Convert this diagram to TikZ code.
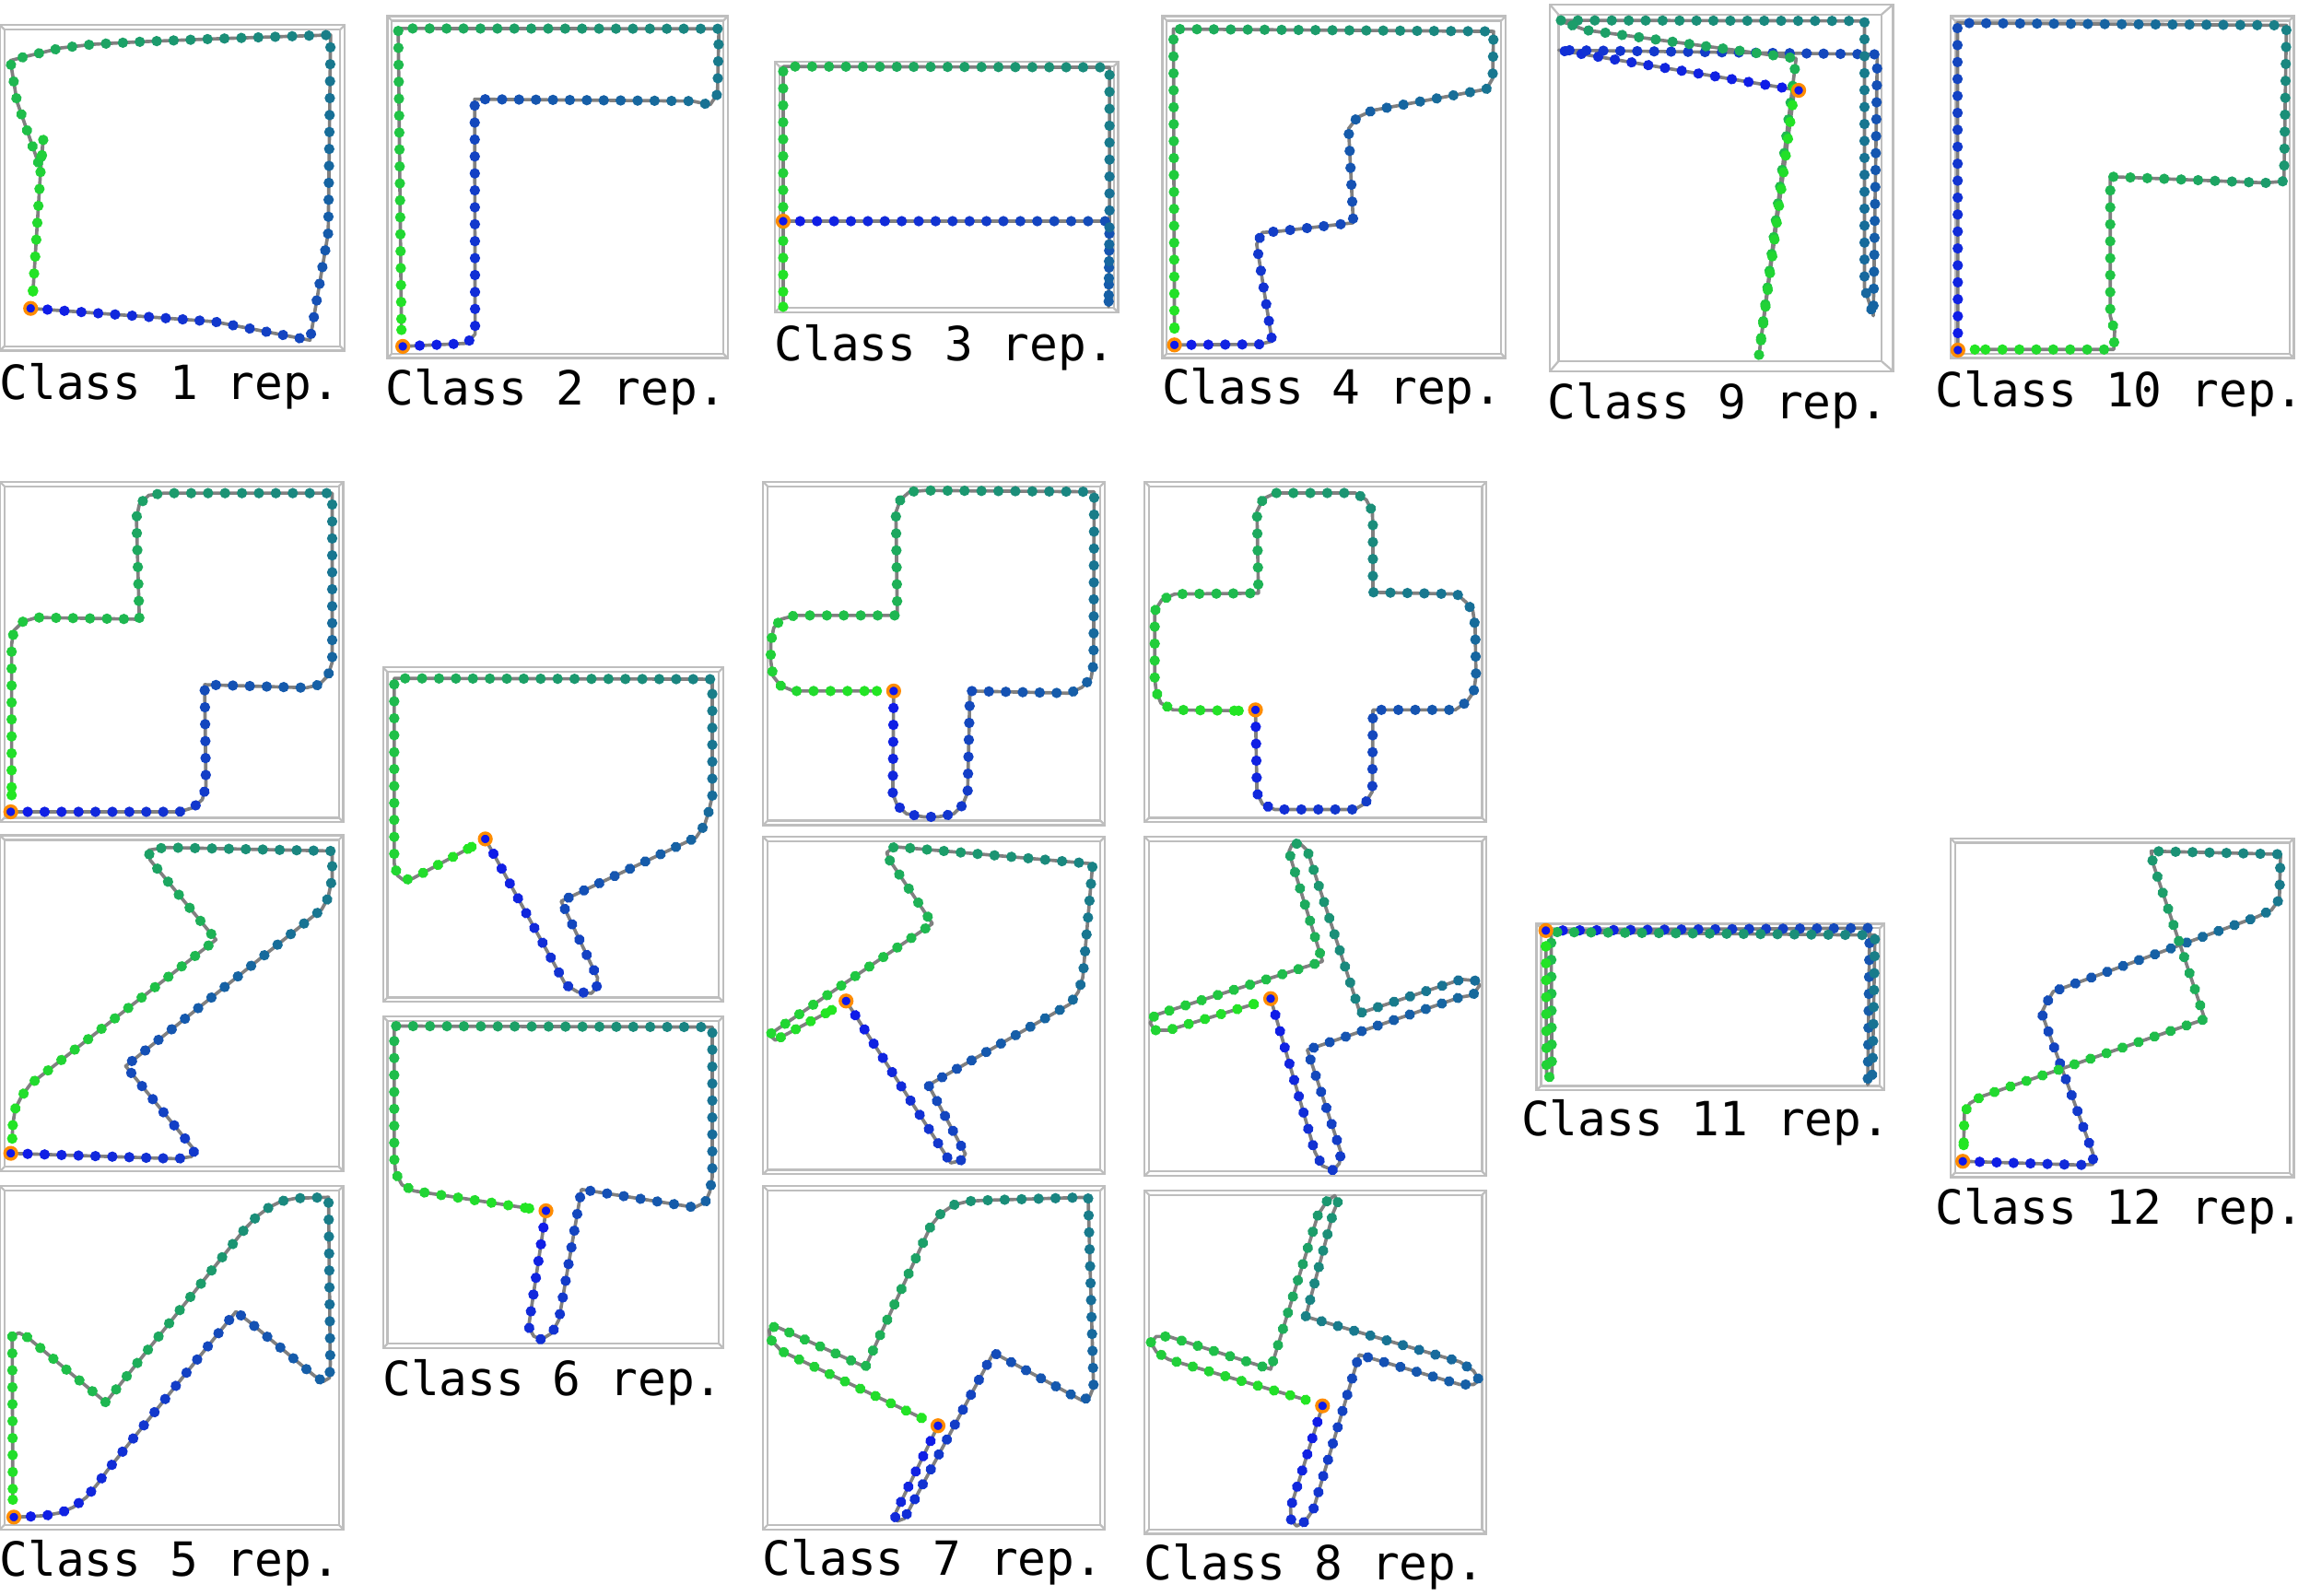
\documentclass[tikz,border=0pt]{standalone}
\usepackage{fontspec}
\setmonofont{DejaVu Sans Mono}
\usetikzlibrary{decorations.markings}
\definecolor{startc}{RGB}{15,25,235}
\definecolor{endc}{RGB}{35,230,35}
\definecolor{boxc}{RGB}{190,190,190}
\definecolor{ringc}{RGB}{255,140,0}
\newcommand\dotmark{%
  \pgfmathsetmacro\dotfr{(\pgfkeysvalueof{/pgf/decoration/mark info/distance from start}/\pgfdecoratedpathlength)*100}%
  \fill[endc!\dotfr!startc] (0,0) circle[radius=0.355mm];}
\newcommand\panelbox[4]{%
  \draw[boxline] (#1,#2) rectangle (#3,#4);
  \draw[boxline] (#1+3,#2+3) rectangle (#3-3,#4-3);
  \draw[boxline] (#1,#2) -- (#1+3,#2+3) (#3,#2) -- (#3-3,#2+3)
                 (#1,#4) -- (#1+3,#4-3) (#3,#4) -- (#3-3,#4-3);}
\tikzset{
  traj/.style={draw=gray, line width=0.65pt, line join=round, postaction={decorate},
    decoration={markings,
      mark=between positions 0 and 1 step 1.15mm with {\dotmark},
      mark=at position 1 with {\dotmark}}},
  startmk/.style={fill=startc, draw=ringc, line width=0.6pt},
  boxline/.style={draw=boxc, line width=0.4pt},
  lbl/.style={font=\ttfamily\fontsize{9.1}{11}\selectfont, inner sep=0pt, anchor=base west},
}
\begin{document}
\begin{tikzpicture}[x=0.1mm,y=-0.1mm]
\useasboundingbox (0,0) rectangle (1568,1083);
% ---------- boxes ----------
\panelbox{0}{17}{234}{238}
\panelbox{263}{11}{494}{243}
\panelbox{526}{42}{759}{212}
\panelbox{789}{11}{1022}{243}
\draw[boxline] (1052,3) rectangle (1285,252);
\draw[boxline] (1058,10) rectangle (1277,245);
\draw[boxline] (1052,3) -- (1058,10) (1285,3) -- (1277,10) (1052,252) -- (1058,245) (1285,252) -- (1277,245);
\panelbox{1324}{11}{1557}{243}
\panelbox{0}{327}{233}{558}
\panelbox{0}{567}{233}{795}
\panelbox{0}{805}{233}{1038}
\panelbox{260}{453}{491}{680}
\panelbox{260}{690}{491}{915}
\panelbox{518}{327}{750}{560}
\panelbox{518}{568}{750}{797}
\panelbox{518}{805}{750}{1038}
\panelbox{777}{327}{1009}{558}
\panelbox{777}{568}{1009}{798}
\panelbox{777}{808}{1009}{1041}
\panelbox{1043}{627}{1279}{740}
\panelbox{1324}{569}{1557}{799}
% ---------- Class 1 ----------
\draw[traj] (20.8,209.3) -- (145.5,218.3) -- (210.4,230.9) -- (222.8,158) -- (224.4,23.7) -- (143.9,26.4) -- (95.9,28.3) -- (63.9,30.0) -- (41.6,32.5) -- (19.2,37.9) -- (7.0,41.1) -- (11.5,68.8) -- (27.2,113.9) -- (29.4,94.4) -- (27.5,117.0) -- (22.4,197.8);
\path[startmk] (20.8,209.3) circle[radius=0.4mm];
% ---------- Class 2 ----------
\draw[traj] (273.4,235.1) -- (316.8,233.0) -- (322.5,226.8) -- (322.2,67.3) -- (470,68.6) -- (482,71.1) -- (487,63.8) -- (488,19.5) -- (270.3,19.3) -- (272.5,223.9);
\path[startmk] (273.4,235.1) circle[radius=0.4mm];
% ---------- Class 3 ----------
\draw[traj] (531.6,150.1) -- (753.1,150.1) -- (752.5,208.2) -- (753.1,150.1) -- (753.1,45.7) -- (531.6,45.1) -- (531.6,150.1) -- (531.6,208.2);
\path[startmk] (531.6,150.1) circle[radius=0.4mm];
% ---------- Class 4 ----------
\draw[traj] (797.2,234.1) -- (854.6,233.7) -- (863.5,231.6) -- (853.0,165.7) -- (856.9,157.8) -- (867.8,157.0) -- (918.6,151.2) -- (915.4,87.3) -- (921.3,79.7) -- (931.8,74.9) -- (1008.9,60.5) -- (1013.2,53.3) -- (1013.8,21.3) -- (796.5,19.7) -- (797.2,223.0);
\path[startmk] (797.2,234.1) circle[radius=0.4mm];
% ---------- Class 9 ----------
\draw[traj] (1220.9,61.3) -- (1058.0,34.0) -- (1274.3,36.9) -- (1271.6,214.3) -- (1265.6,195.3) -- (1265.6,14.2) -- (1058.0,13.8) -- (1076.4,20.4) -- (1219.2,39.6) -- (1193.9,241.6) -- (1218.2,60.3);
\path[startmk] (1220.9,61.3) circle[radius=0.4mm];
% ---------- Class 10 ----------
\draw[traj] (1329.0,237.6) -- (1328.7,15.6) -- (1552.0,17.2) -- (1550.3,123.0) -- (1537.9,124.1) -- (1432.4,119.9) -- (1432.4,214.4) -- (1435.4,224.7) -- (1434.8,237.2) -- (1340.5,237.2);
\path[startmk] (1329.0,237.6) circle[radius=0.4mm];
% ---------- Class 5 ----------
\draw[traj] (7.3,551.0) -- (121.7,551.0) -- (131.0,548.2) -- (137.3,542.7) -- (139.8,533.6) -- (138.9,464.7) -- (208.0,466.8) -- (216.7,464.7) -- (222.6,458.6) -- (225.5,449.4) -- (225.5,334.7) -- (111.3,334.7) -- (100.9,336.2) -- (94.6,342.3) -- (92.6,351.5) -- (94.6,420.3) -- (25.0,419.1) -- (15.6,421.9) -- (9.4,428.0) -- (7.9,437.2) -- (7.9,539.7);
\path[startmk] (7.3,551.0) circle[radius=0.4mm];
\draw[traj] (7.3,782.8) -- (120.6,786.5) -- (130.0,785.0) -- (132.1,780.7) -- (85.3,723.6) -- (218.4,617.2) -- (222.6,609.6) -- (225.5,595.9) -- (225.5,577.6) -- (112.3,575.2) -- (100.9,577.0) -- (101.9,583.7) -- (146.6,637.8) -- (20.8,735.7) -- (14.6,744.2) -- (10.4,752.4) -- (8.7,763.1) -- (8.3,772.8);
\path[startmk] (7.3,782.8) circle[radius=0.4mm];
\draw[traj] (9.4,1029.7) -- (20.8,1029.3) -- (31.2,1028.6) -- (41.6,1026.6) -- (49.9,1022.9) -- (58.7,1016.2) -- (66.1,1007.3) -- (72.8,998.1) -- (160.2,890.2) -- (169.5,897.4) -- (213.2,933.6) -- (219.4,937.7) -- (223.6,935.2) -- (224.2,926.3) -- (223.0,812.6) -- (200.7,813.3) -- (190.9,815.3) -- (182.6,819.5) -- (174.3,825.7) -- (166.4,833.9) -- (71.8,951.8) -- (18.7,907.7) -- (12.9,904.6) -- (8.3,907.1) -- (8.7,1017.9);
\path[startmk] (9.4,1029.7) circle[radius=0.4mm];
% ---------- Class 6 ----------
\draw[traj] (329.4,569.4) -- (384.0,668.4) -- (392.2,673.3) -- (401.5,674.2) -- (405.0,670.0) -- (405.6,663.6) -- (380.9,611.7) -- (472.5,568.4) -- (478.3,559.8) -- (481.1,550.8) -- (483.5,540.2) -- (483.5,461.0) -- (267.6,460.4) -- (267.6,586.0) -- (269.7,594.1) -- (273.8,597.3) -- (280.0,596.3) -- (320.1,574.8);
\path[startmk] (329.4,569.4) circle[radius=0.4mm];
\draw[traj] (370.6,821.8) -- (358.8,900.5) -- (362.3,906.9) -- (367.5,909.2) -- (374.7,904.7) -- (379.4,895.7) -- (394.7,807.3) -- (471.5,819.5) -- (478.7,816.0) -- (481.8,808.9) -- (483.5,798.6) -- (483.5,697.1) -- (267.6,696.4) -- (267.6,786.4) -- (268.6,796.1) -- (272.8,804.1) -- (281.0,808.3) -- (359.2,820.2);
\path[startmk] (370.6,821.8) circle[radius=0.4mm];
% ---------- Class 7 ----------
\draw[traj] (606.6,469.0) -- (606.0,538.9) -- (609.1,546.7) -- (615.3,552.3) -- (626.7,554.4) -- (637.1,554.4) -- (647.4,552.3) -- (653.2,546.7) -- (656.8,538.0) -- (658.4,469.0) -- (726.1,470.5) -- (734.4,466.5) -- (740.6,460.3) -- (742.3,450.3) -- (742.7,333.8) -- (627.8,332.9) -- (617.4,333.8) -- (611.2,339.1) -- (608.1,347.8) -- (609.1,417.7) -- (539.7,417.7) -- (530.4,420.2) -- (525.2,426.1) -- (523.2,436.4) -- (523.2,448.8) -- (524.8,459.0) -- (529.8,465.3) -- (538.7,469.0) -- (595.2,469.0);
\path[startmk] (606.6,469.0) circle[radius=0.4mm];
\draw[traj] (574.3,679.4) -- (645.4,789.3) -- (652.0,787.8) -- (655.3,783.2) -- (630.2,736.5) -- (726.1,681.6) -- (731.9,673.3) -- (735.0,663.3) -- (741.7,586.3) -- (607.1,574.7) -- (601.9,578.7) -- (603.9,583.9) -- (632.9,626.9) -- (522.1,702.3) -- (526.3,706.0) -- (564.6,685.5);
\path[startmk] (574.3,679.4) circle[radius=0.4mm];
\draw[traj] (636.7,967.7) -- (607.1,1028.6) -- (609.1,1032.4) -- (613.9,1030.7) -- (674.4,918.1) -- (734.4,950.5) -- (739.6,948.0) -- (742.3,941.4) -- (738.6,812.6) -- (668.1,814.7) -- (657.4,815.3) -- (647.4,817.8) -- (638.7,823.6) -- (631.9,831.9) -- (587.4,927.8) -- (526.3,900.1) -- (522.1,902.6) -- (522.8,908.8) -- (530.4,917.0) -- (625.7,962.5);
\path[startmk] (636.7,967.7) circle[radius=0.4mm];
% ---------- Class 8 ----------
\draw[traj] (852.2,481.8) -- (853.2,538.2) -- (857.0,545.8) -- (865.2,549.4) -- (919.5,549.4) -- (926.7,545.2) -- (931.5,537.2) -- (931.9,481.8) -- (987.8,481.8) -- (995.7,476.3) -- (1000.3,469.6) -- (1001.9,458.9) -- (1001.3,425.4) -- (999.8,414.8) -- (995.1,408.7) -- (988.9,403.2) -- (931.9,402.0) -- (931.9,356.9) -- (931.5,347.1) -- (927.4,339.2) -- (919.9,334.6) -- (865.6,334.6) -- (857.4,338.6) -- (853.2,347.1) -- (854.2,402.6) -- (797.3,403.2) -- (788.6,407.1) -- (783.8,414.8) -- (783.8,460.5) -- (784.9,469.6) -- (788.0,477.2) -- (796.3,481.8) -- (840.8,482.4);
\path[startmk] (852.2,481.8) circle[radius=0.4mm];
\draw[traj] (862.5,677.8) -- (892.6,782.1) -- (897.7,791.3) -- (905.0,794.3) -- (909.1,789.7) -- (910.2,782.1) -- (887.4,712.6) -- (990.9,676.9) -- (999.8,675.4) -- (1004.4,668.7) -- (1001.3,665.6) -- (992.0,664.7) -- (923.2,687.6) -- (887.4,577.2) -- (882.2,572.3) -- (877.0,573.2) -- (875.0,577.8) -- (877.0,585.4) -- (897.7,652.5) -- (783.8,689.1) -- (780.7,694.3) -- (783.8,699.2) -- (793.2,699.2) -- (851.1,681.5);
\path[startmk] (862.5,677.8) circle[radius=0.4mm];
\draw[traj] (897.7,954.2) -- (876.0,1023.4) -- (876.4,1031.7) -- (880.1,1035.8) -- (885.9,1032.7) -- (891.5,1024.4) -- (922.6,919.5) -- (990.9,939.7) -- (1000.3,939.7) -- (1004.0,936.8) -- (1000.3,930.5) -- (990.9,924.3) -- (886.3,893.6) -- (905.0,823.0) -- (908.1,815.7) -- (906.0,811.5) -- (900.8,815.1) -- (894.6,824.6) -- (862.5,929.3) -- (793.2,907.1) -- (784.9,907.1) -- (781.1,911.2) -- (784.9,917.5) -- (793.2,922.7) -- (886.3,950.1);
\path[startmk] (897.7,954.2) circle[radius=0.4mm];
% ---------- Class 11 ----------
\draw[traj] (1049.3,631.6) -- (1269.1,629.9) -- (1267.8,736.2) -- (1271.0,729.0) -- (1272.7,634.7) -- (1052.9,632.6) -- (1053.4,730.0) -- (1049.8,732.1) -- (1049.3,642.3);
\path[startmk] (1049.3,631.6) circle[radius=0.4mm];
% ---------- Class 12 ----------
\draw[traj] (1332.3,788.2) -- (1411.4,790.7) -- (1420.7,790.3) -- (1420.7,783.0) -- (1385.8,687.5) -- (1388.5,681.9) -- (1393.7,673.0) -- (1532.0,622.3) -- (1541.8,617.7) -- (1547.2,610.4) -- (1548.0,579.8) -- (1460.2,577.7) -- (1461.3,585.6) -- (1496.6,691.7) -- (1345.4,744.1) -- (1337.1,748.8) -- (1333.4,755.5) -- (1332.9,777.2);
\path[startmk] (1332.3,788.2) circle[radius=0.4mm];
% ---------- labels ----------
\node[lbl] (l1) at (-1,271) {Class 1 rep.};
\node[lbl] (l2) at (261,275) {Class 2 rep.};
\node[lbl] (l3) at (525,245) {Class 3 rep.};
\node[lbl] (l4) at (788,274) {Class 4 rep.};
\node[lbl] (l9) at (1050,284) {Class 9 rep.};
\node[lbl] (l10) at (1313,276) {Class 10 rep.};
\node[lbl] (l5) at (-1,1070) {Class 5 rep.};
\node[lbl] (l6) at (259,947) {Class 6 rep.};
\node[lbl] (l7) at (517,1069) {Class 7 rep.};
\node[lbl] (l8) at (776,1072) {Class 8 rep.};
\node[lbl] (l11) at (1032,771) {Class 11 rep.};
\node[lbl] (l12) at (1313,831) {Class 12 rep.};
\end{tikzpicture}
\end{document}
